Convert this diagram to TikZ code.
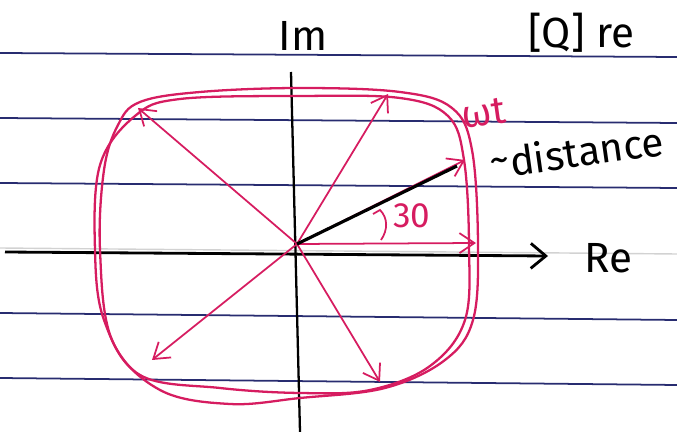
\documentclass[tikz,border=0pt]{standalone}
\usepackage{fontspec}
\setmainfont{Fira Sans}
\usetikzlibrary{arrows.meta}

\definecolor{penred}{RGB}{214,28,96}
\definecolor{ruling}{RGB}{40,44,112}

\begin{document}
\begin{tikzpicture}[
    x=0.02cm, y=-0.02cm,
    every node/.style={font=\fontsize{24}{26}\selectfont},
    rule/.style={ruling, line width=1pt},
    loop/.style={penred, line width=1.3pt},
    vec/.style={penred, line width=1pt,
                -{Straight Barb[length=3mm, width=4mm]}},
    axis/.style={black, line width=1.6pt},
    tag/.style={inner sep=0pt}
  ]
  \clip (0,0) rectangle (677,432);
  % ruled paper
  \foreach \ya/\yb in {53/57, 118/123, 183/188, 313/320, 378/385}
    \draw[rule] (0,\ya) -- (677,\yb);
  \draw[gray!35, line width=0.8pt] (0,248) -- (677,254);

  % axes
  \coordinate (O) at (297,244);
  \coordinate (imtop) at (291,72);
  \coordinate (imbot) at (300,432);
  \coordinate (releft) at (5,252);
  \coordinate (reright) at (548,256);
  \draw[axis, line width=1.3pt] (imtop) -- (imbot);
  \draw[axis, -{Straight Barb[length=3mm, width=5mm]}] (releft) -- (reright);
  \node (im) at (303,36) {Im};
  \node[anchor=west] (re) at (578,258) {Re};
  \node[anchor=west] (q) at (522,33) {[Q] re};

  % the two passes round the rounded square
  \draw[loop] plot[smooth cycle, tension=0.6] coordinates {
    (140,102) (200,92) (300,88) (400,92) (452,108) (472,150) (478,245)
    (473,320) (445,360) (385,388) (300,398) (230,404) (160,390)
    (112,340) (100,250) (104,170) (118,125)};
  \draw[loop] plot[smooth cycle, tension=0.6] coordinates {
    (135,116) (180,99) (300,96) (400,98) (448,116) (464,160) (469,245)
    (465,320) (430,366) (370,390) (300,393) (220,388) (140,375)
    (104,320) (95,250) (100,165)};

  % vectors
  \coordinate (a1) at (138,108);
  \coordinate (a2) at (388,94);
  \coordinate (a3) at (465,160);
  \coordinate (a4) at (476,243);
  \coordinate (a5) at (152,360);
  \coordinate (a6) at (380,382);
  \foreach \p in {a1,a2,a3,a4,a5,a6}
    \draw[vec] (O) -- (\p);
  \coordinate (d) at (457,166);
  \draw[black, line width=1.8pt] (O) -- (d);

  % angle
  \coordinate (t1) at (381,240);
  \coordinate (t2) at (380,210);
  \draw[penred, line width=1pt] (t1) .. controls (388,230) and (388,218) .. (t2) -- (373,214);
  \node[penred, font=\fontsize{20}{22}\selectfont] (ang) at (412,216) {30};

  % labels
  \node[tag, penred, rotate=8, font=\fontsize{22}{24}\selectfont] (wt) at (484,113) {ωt};
  \node[tag, rotate=8, anchor=west, font=\fontsize{23}{25}\selectfont] (dist) at (490,164)
    {\raisebox{3pt}{\textasciitilde}distance};
\end{tikzpicture}
\end{document}
